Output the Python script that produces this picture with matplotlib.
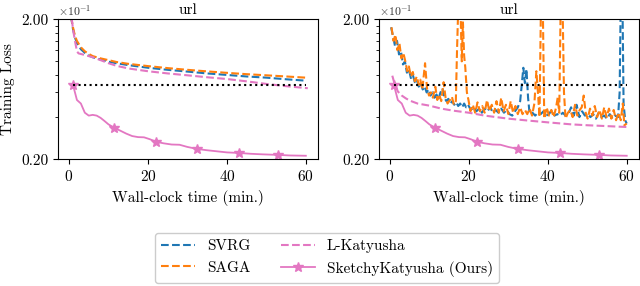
import matplotlib

matplotlib.use("Agg")
import matplotlib.pyplot as plt
from matplotlib.ticker import FixedLocator, NullFormatter

plt.rcParams.update({
    "font.family": "serif",
    "font.serif": ["cmr10"],
    "mathtext.fontset": "cm",
    "axes.formatter.use_mathtext": True,
    "axes.unicode_minus": False,
    "font.size": 11,
})

BLUE, ORANGE, PINK = "#1f77b4", "#ff7f0e", "#e377c2"

# ---- data (training loss vs wall-clock minutes) ----
target_loss = 0.068
target_span = [1, 60]

# left panel
svrg_l_t = [0.5, 1, 1.5, 2, 3, 4, 5, 6, 8, 10, 12, 15, 20, 25, 30, 35, 40, 45, 50, 55, 60]
svrg_l = [0.21, 0.17, 0.148, 0.135, 0.122, 0.115, 0.110, 0.107, 0.103, 0.0995, 0.097,
          0.094, 0.090, 0.087, 0.0845, 0.082, 0.080, 0.078, 0.0765, 0.0745, 0.0728]
saga_l_t = svrg_l_t
saga_l = [0.21, 0.175, 0.152, 0.14, 0.126, 0.118, 0.113, 0.109, 0.105, 0.102, 0.099,
          0.096, 0.0925, 0.0895, 0.087, 0.0848, 0.0828, 0.081, 0.0795, 0.078, 0.0765]
lkat_l_t = [0.7, 1, 1.5, 2, 2.4, 4, 6, 8, 10, 12, 15, 20, 25, 30, 35, 40, 45, 50, 55, 60.5]
lkat_l = [0.2, 0.17, 0.14, 0.118, 0.114, 0.111, 0.107, 0.102, 0.097, 0.093, 0.089, 0.085,
          0.082, 0.0795, 0.077, 0.0748, 0.072, 0.069, 0.0665, 0.0643]

# SketchyKatyusha (same run in both panels)
sketchy_t = [1, 1.5, 2, 3, 4, 5, 6, 7, 8, 9, 10, 11.5, 13, 14.5, 16, 17.5, 19, 20.5, 22,
             24, 26, 28, 30, 32.5, 35, 37.5, 40, 43, 46, 49, 53, 56, 60]
sketchy = [0.068, 0.060, 0.053, 0.050, 0.043, 0.041, 0.0415, 0.041, 0.0395, 0.0375,
           0.0355, 0.0335, 0.032, 0.0305, 0.0293, 0.0288, 0.0287, 0.0278, 0.0267, 0.026,
           0.0255, 0.0254, 0.0245, 0.0237, 0.0232, 0.0228, 0.0224, 0.0222, 0.0219,
           0.0217, 0.0215, 0.0213, 0.0212]
sketchy_marks = [0, 11, 18, 23, 27, 30]

# right panel
svrg_r_t = [0.3, 0.8, 1.3, 1.8, 2.3, 2.8, 3.3, 3.8, 4.3, 4.8, 5.3, 5.8, 6.3, 6.8, 7.3,
            7.8, 8.3, 8.8, 9.3, 9.8, 10.3, 10.8, 11.3, 11.8, 12.3, 12.8, 13.3, 13.8,
            14.3, 14.8, 15.3, 15.8, 16.3, 16.8, 17.3, 17.8, 18.3, 18.8, 19.3, 19.8,
            20.5, 21.2, 21.9, 22.6, 23.3, 24.0, 24.7, 25.4, 26.1, 26.8, 27.5, 28.2,
            28.9, 29.6, 30.3, 31.0, 31.7, 32.4, 33.0, 33.4, 33.8, 34.2, 34.6, 35.0,
            35.4, 36.1, 36.8, 37.5, 38.2, 38.9, 39.6, 40.3, 41.0, 41.7, 42.4, 43.1,
            43.8, 44.5, 45.2, 45.9, 46.6, 47.3, 48.0, 48.7, 49.4, 50.1, 50.8, 51.5,
            52.2, 52.9, 53.6, 54.3, 55.0, 55.7, 56.4, 57.1, 57.8, 58.2, 58.5, 58.9,
            59.2, 59.6, 60.0]
svrg_r = [0.175, 0.150, 0.128, 0.140, 0.112, 0.118, 0.095, 0.100, 0.083, 0.088, 0.076,
          0.080, 0.071, 0.074, 0.066, 0.070, 0.063, 0.066, 0.060, 0.063, 0.057, 0.060,
          0.055, 0.058, 0.054, 0.060, 0.064, 0.055, 0.052, 0.054, 0.050, 0.052, 0.049,
          0.051, 0.048, 0.050, 0.047, 0.050, 0.047, 0.049,
          0.045, 0.047, 0.044, 0.046, 0.043, 0.046, 0.044, 0.047, 0.043, 0.045,
          0.043, 0.046, 0.043, 0.045, 0.042, 0.041, 0.044, 0.047, 0.052, 0.068,
          0.090, 0.070, 0.088, 0.055, 0.042, 0.043, 0.041, 0.043, 0.042, 0.044,
          0.041, 0.042, 0.045, 0.041, 0.042, 0.041, 0.043, 0.041, 0.042, 0.047,
          0.041, 0.049, 0.040, 0.044, 0.041, 0.042, 0.040, 0.042, 0.039, 0.043,
          0.040, 0.041, 0.039, 0.042, 0.039, 0.041, 0.040, 0.060, 0.30, 0.30,
          0.050, 0.038, 0.036]
saga_r_t = [0.4, 0.9, 1.4, 1.9, 2.4, 2.9, 3.4, 3.9, 4.4, 4.8, 5.3, 5.8, 6.3, 6.8, 7.3,
            7.7, 8.2, 8.9, 9.4, 9.9, 10.4, 10.9, 11.5, 12.0, 12.5, 13.0, 13.6, 14.1,
            14.6, 15.2, 15.7, 16.2, 16.7, 17.0, 17.4, 17.8, 18.2, 18.5, 18.8, 19.1,
            19.5, 19.9, 20.4, 21.0, 21.6, 22.2, 22.8, 23.4, 24.0, 24.6, 25.2, 25.8,
            26.4, 27.0, 27.6, 28.2, 28.8, 29.4, 30.0, 30.6, 31.2, 31.8, 32.4, 33.0,
            33.6, 34.2, 34.8, 35.4, 36.0, 36.6, 37.1, 37.5, 37.9, 38.3, 38.7, 39.1,
            39.7, 40.3, 40.9, 41.5, 42.1, 42.5, 42.9, 43.3, 43.7, 44.1, 44.5, 45.1,
            45.7, 46.3, 46.9, 47.5, 48.1, 48.6, 49.1, 49.6, 50.1, 50.7, 51.3, 51.9,
            52.5, 53.1, 53.7, 54.3, 54.9, 55.5, 56.1, 56.7, 57.3, 57.9, 58.5, 59.0,
            59.4, 60.0]
saga_r = [0.175, 0.140, 0.155, 0.120, 0.135, 0.105, 0.115, 0.100, 0.085, 0.092, 0.078,
          0.084, 0.072, 0.078, 0.068, 0.074, 0.063, 0.097, 0.064, 0.057, 0.060, 0.055,
          0.066, 0.053, 0.058, 0.052, 0.071, 0.055, 0.050, 0.053, 0.056, 0.049, 0.052,
          0.120, 0.30, 0.30, 0.100, 0.190, 0.110, 0.090, 0.060, 0.053,
          0.044, 0.049, 0.043, 0.051, 0.044, 0.048, 0.043, 0.053, 0.044, 0.049,
          0.043, 0.052, 0.043, 0.055, 0.044, 0.049, 0.042, 0.052, 0.043, 0.048,
          0.042, 0.047, 0.042, 0.045, 0.042, 0.046, 0.041, 0.050, 0.085, 0.060,
          0.040, 0.30, 0.30, 0.039, 0.047, 0.041, 0.045, 0.040, 0.047, 0.055,
          0.043, 0.30, 0.30, 0.060, 0.039, 0.043, 0.045, 0.040, 0.049, 0.041,
          0.045, 0.047, 0.057, 0.043, 0.039, 0.046, 0.041, 0.048, 0.040, 0.045,
          0.039, 0.047, 0.040, 0.046, 0.039, 0.045, 0.038, 0.043, 0.038, 0.050,
          0.035, 0.036]
lkat_r_t = [0.6, 1, 1.5, 2, 3, 4, 5, 7, 10, 13, 16, 20, 24, 30, 35, 40, 46, 50, 55, 60]
lkat_r = [0.079, 0.072, 0.066, 0.061, 0.057, 0.0545, 0.0525, 0.050, 0.0483, 0.046,
          0.0445, 0.043, 0.041, 0.039, 0.0378, 0.0367, 0.0355, 0.035, 0.0345, 0.034]

fig = plt.figure(figsize=(6.4, 2.86), dpi=100)
ax_l = fig.add_axes([0.0906, 0.443, 0.407, 0.49])
ax_r = fig.add_axes([0.592, 0.443, 0.407, 0.49])

panels = [
    (ax_l, svrg_l_t, svrg_l, saga_l_t, saga_l, lkat_l_t, lkat_l),
    (ax_r, svrg_r_t, svrg_r, saga_r_t, saga_r, lkat_r_t, lkat_r),
]
for ax, st, sv, gt, gv, kt, kv in panels:
    ax.plot(st, sv, "--", color=BLUE, lw=1.5, label="SVRG")
    ax.plot(gt, gv, "--", color=ORANGE, lw=1.5, label="SAGA")
    ax.plot(kt, kv, "--", color=PINK, lw=1.5, label="L-Katyusha")
    ax.plot(sketchy_t, sketchy, "-", color=PINK, lw=1.3, marker="*", ms=7,
            markevery=sketchy_marks, label="SketchyKatyusha (Ours)")
    ax.plot(target_span, [target_loss, target_loss], ":", color="black", lw=1.5)

    ax.set_yscale("log")
    ax.set_ylim(0.02, 0.2)
    ax.yaxis.set_major_locator(FixedLocator([0.02, 0.2]))
    ax.set_yticklabels(["0.20", "2.00"])
    ax.yaxis.set_minor_locator(FixedLocator([0.04, 0.06, 0.08, 0.10, 0.12, 0.14, 0.16, 0.18]))
    ax.yaxis.set_minor_formatter(NullFormatter())
    ax.set_xlim(-2.8, 63.2)
    ax.set_xticks([0, 20, 40, 60])
    ax.set_xlabel("Wall-clock time (min.)")
    ax.set_title("url", fontsize=11, pad=4)
    ax.text(0.0, 1.005, r"$\times10^{-1}$", transform=ax.transAxes, fontsize=8.5,
            ha="left", va="bottom", color="#333333")

ax_l.set_ylabel("Training Loss")

handles, labels = ax_l.get_legend_handles_labels()
fig.legend(handles, labels, ncol=2, loc="center", bbox_to_anchor=(0.511, 0.098),
           fontsize=11, handlelength=2.2, columnspacing=2.0, framealpha=1.0,
           edgecolor="#cccccc")

fig.savefig("out.png", dpi=100)
